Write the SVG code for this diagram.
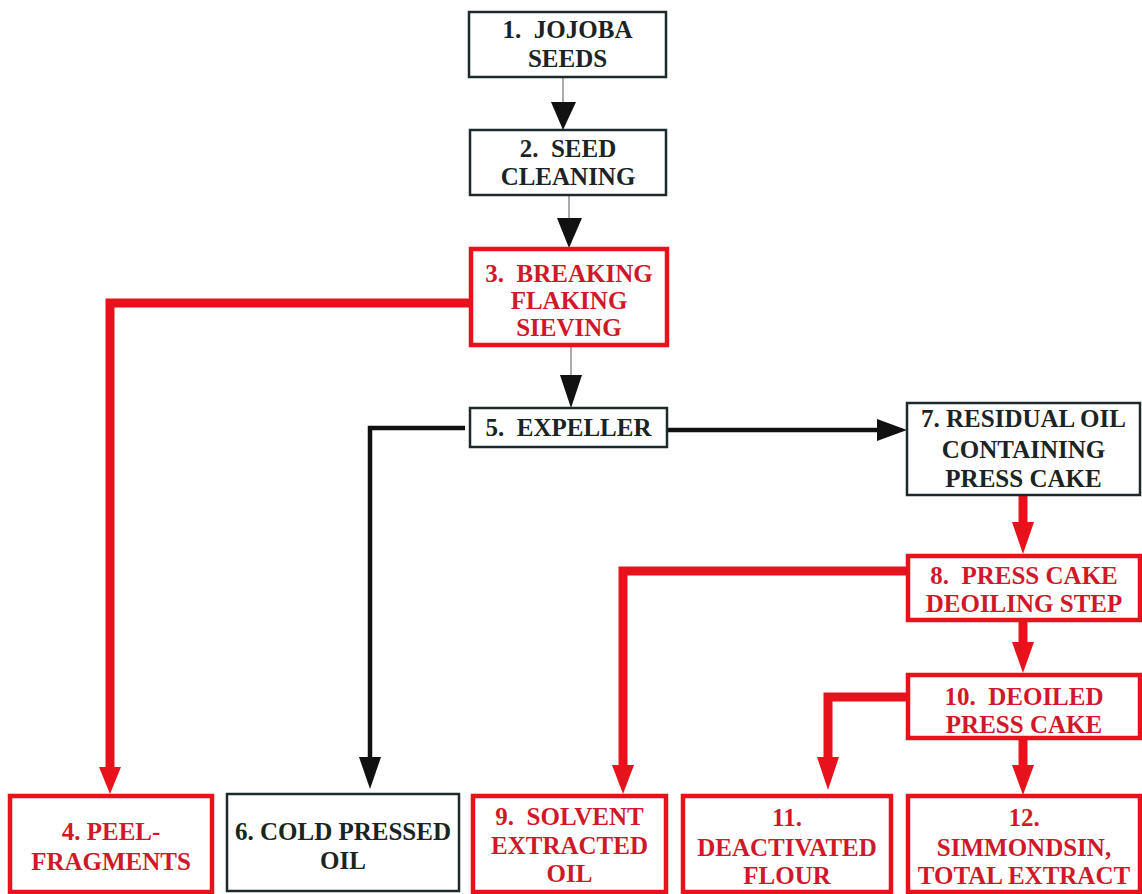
<svg xmlns="http://www.w3.org/2000/svg" width="1142" height="894" viewBox="0 0 1142 894">
<style>
.bk{fill:#fff;stroke:#1c2a2a;stroke-width:2.5}
.rd{fill:#fff;stroke:#e8121c;stroke-width:4.5}
.tb{fill:#1a2424}
.tr{fill:#d0182a}
.thin{stroke:#8a8f90;stroke-width:1.5;fill:none}
.blk{stroke:#111;stroke-width:4.5;fill:none}
.red{stroke:#e8121c;stroke-width:9;fill:none}
.hb{fill:#111}
.hr{fill:#e8121c}
</style>
<g id="connectors">
<line class="thin" x1="563" y1="77" x2="563" y2="104"/>
<polygon class="hb" points="551,102 576,102 563,130"/>
<line class="thin" x1="569" y1="195" x2="569" y2="220"/>
<polygon class="hb" points="557,218 582,218 569,248"/>
<line class="thin" x1="571" y1="347" x2="571" y2="377"/>
<polygon class="hb" points="560,375 582,375 571,408"/>
<polyline class="red" points="471,303 110,303 110,769"/>
<polygon class="hr" points="99,767 121,767 110,794"/>
<polyline class="blk" points="465,428 370,428 370,759"/>
<polygon class="hb" points="359,757 381,757 370,789"/>
<line class="blk" x1="667" y1="430" x2="879" y2="430"/>
<polygon class="hb" points="877,419 877,441 907,430"/>
<line class="red" x1="1023" y1="496" x2="1023" y2="524"/>
<polygon class="hr" points="1012,522 1034,522 1023,554"/>
<polyline class="red" points="908,571 623,571 623,767"/>
<polygon class="hr" points="612,765 634,765 623,794"/>
<line class="red" x1="1023" y1="620" x2="1023" y2="644"/>
<polygon class="hr" points="1012,642 1034,642 1023,673"/>
<polyline class="red" points="908,697 828,697 828,759"/>
<polygon class="hr" points="817,757 839,757 828,790"/>
<line class="red" x1="1023" y1="738" x2="1023" y2="767"/>
<polygon class="hr" points="1012,765 1034,765 1023,795"/>
</g>
<g font-family="Liberation Serif, serif" font-weight="bold" font-size="25" text-anchor="middle">
<g id="n1"><rect class="bk" x="469" y="12" width="197" height="65"/>
<text class="tb" x="567.5" y="38">1.&#160; JOJOBA</text><text class="tb" x="567.5" y="67">SEEDS</text></g>
<g id="n2"><rect class="bk" x="470" y="130" width="196" height="65"/>
<text class="tb" x="568" y="157">2.&#160; SEED</text><text class="tb" x="568" y="185">CLEANING</text></g>
<g id="n3"><rect class="rd" x="471" y="249" width="196" height="96"/>
<text class="tr" x="569" y="282">3.&#160; BREAKING</text><text class="tr" x="569" y="309">FLAKING</text><text class="tr" x="569" y="336">SIEVING</text></g>
<g id="n5"><rect class="bk" x="470" y="408" width="197" height="39"/>
<text class="tb" x="568.5" y="436">5.&#160; EXPELLER</text></g>
<g id="n7"><rect class="bk" x="907" y="403" width="233" height="92"/>
<text class="tb" x="1023.5" y="427">7. RESIDUAL OIL</text><text class="tb" x="1023.5" y="458">CONTAINING</text><text class="tb" x="1023.5" y="487">PRESS CAKE</text></g>
<g id="n8"><rect class="rd" x="908" y="556" width="232" height="64"/>
<text class="tr" x="1024" y="584">8.&#160; PRESS CAKE</text><text class="tr" x="1024" y="612">DEOILING STEP</text></g>
<g id="n10"><rect class="rd" x="908" y="675" width="232" height="63"/>
<text class="tr" x="1024" y="705">10.&#160; DEOILED</text><text class="tr" x="1024" y="733">PRESS CAKE</text></g>
<g id="n4"><rect class="rd" x="10" y="796" width="202" height="96"/>
<text class="tr" x="111" y="840">4. PEEL-</text><text class="tr" x="111" y="870">FRAGMENTS</text></g>
<g id="n6"><rect class="bk" x="227" y="794" width="232" height="97"/>
<text class="tb" x="343" y="840">6. COLD PRESSED</text><text class="tb" x="343" y="869">OIL</text></g>
<g id="n9"><rect class="rd" x="473" y="796" width="193" height="96"/>
<text class="tr" x="569.5" y="825">9.&#160; SOLVENT</text><text class="tr" x="569.5" y="854">EXTRACTED</text><text class="tr" x="569.5" y="882">OIL</text></g>
<g id="n11"><rect class="rd" x="683" y="796" width="208" height="96"/>
<text class="tr" x="787" y="826">11.</text><text class="tr" x="787" y="856">DEACTIVATED</text><text class="tr" x="787" y="884">FLOUR</text></g>
<g id="n12"><rect class="rd" x="908" y="796" width="232" height="96"/>
<text class="tr" x="1024" y="826">12.</text><text class="tr" x="1024" y="856">SIMMONDSIN,</text><text class="tr" x="1024" y="884">TOTAL EXTRACT</text></g>
</g>
</svg>
